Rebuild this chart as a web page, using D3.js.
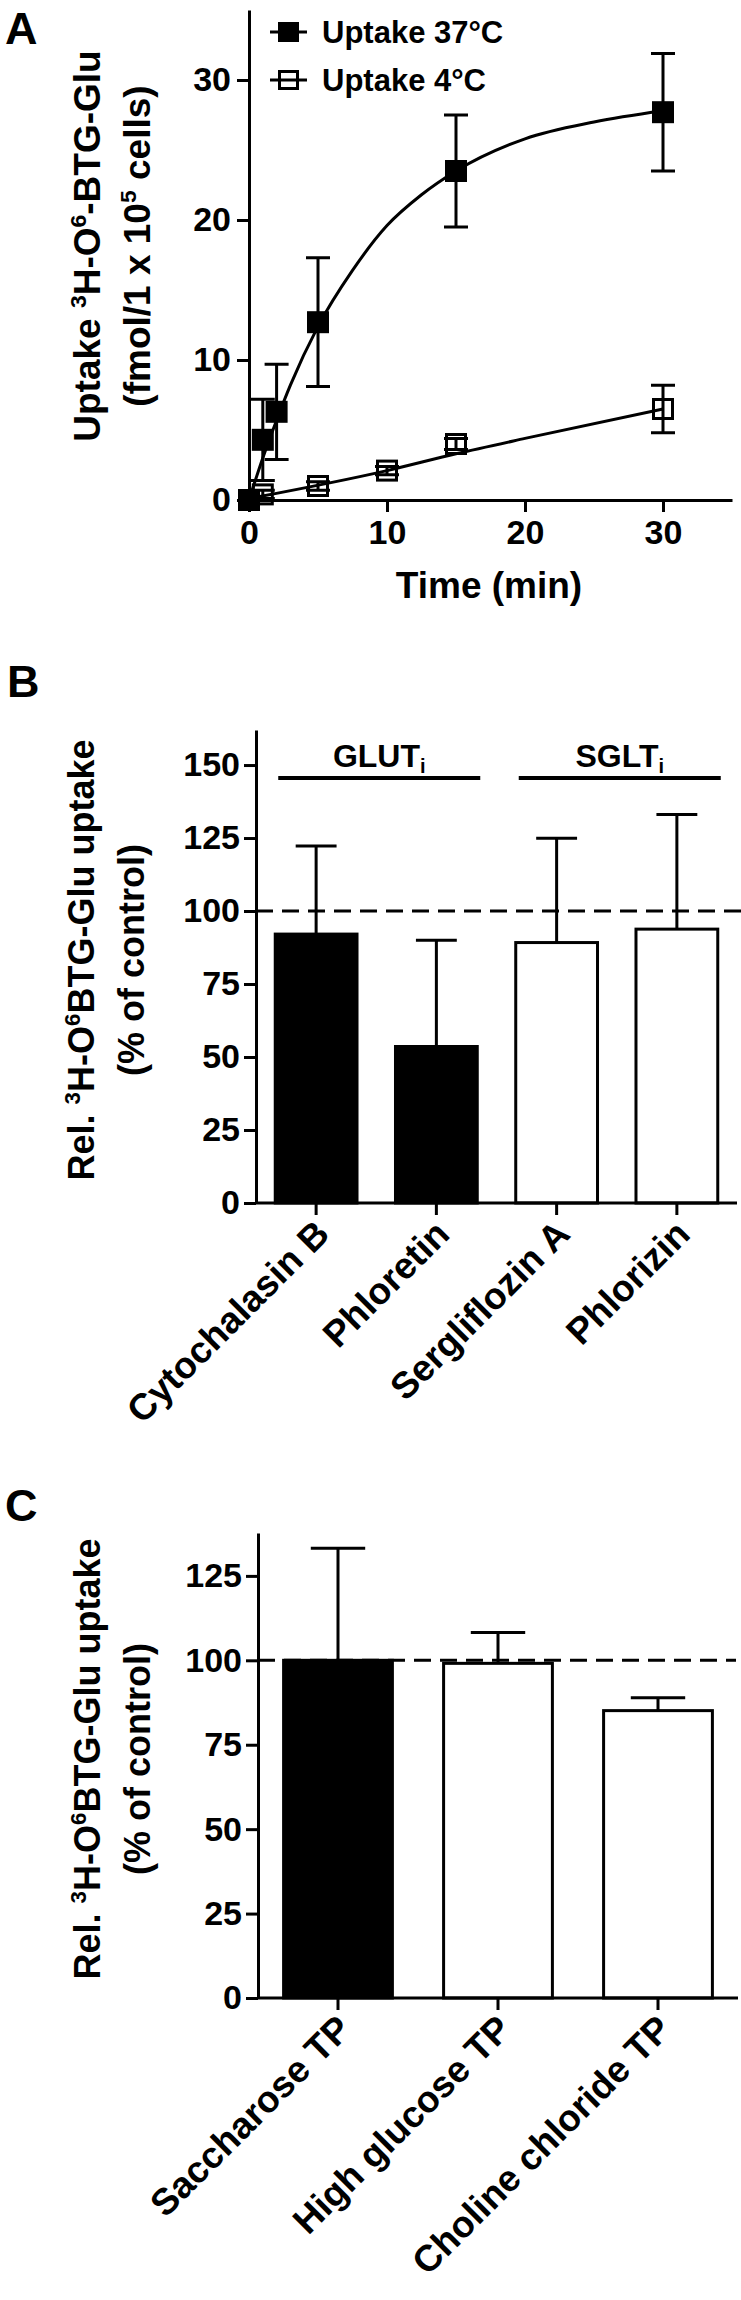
<!DOCTYPE html>
<html lang="en">
<head>
<meta charset="UTF-8">
<title>3H-O6-BTG-Glu uptake</title>
<script src="https://d3js.org/d3.v7.min.js"></script>
<style>
    body { margin: 0; background: #fff; }
    svg { display: block; font-family: "Liberation Sans", Arial, sans-serif; font-weight: bold; }
    .axis path, .axis line { stroke: #000; stroke-width: 3px; }
    .axis text { font-size: 34px; fill: #000; font-family: "Liberation Sans", Arial, sans-serif; font-weight: bold; }
</style>
</head>
<body>
<svg id="fig" width="741" height="2300"></svg>
<script>
    // Panel A - time course
    const time37 = [0, 1, 2, 5, 15, 30];
    const mean37 = [0, 4.3, 6.3, 12.7, 23.5, 27.7];
    const sd37 = [0, 2.9, 3.4, 4.6, 4.0, 4.2];
    const time4 = [0, 1, 5, 10, 15, 30];
    const mean4 = [0, 0.4, 1.0, 2.1, 4.0, 6.5];
    const sd4 = [0, 0.3, 0.3, 0.3, 0.4, 1.7];
    // fitted curves
    const fitTime37 = [0, 1, 2, 3, 5, 7.5, 10, 12.5, 15, 20, 25, 30];
    const fitValue37 = [0, 3.0, 5.7, 8.2, 12.4, 16.4, 19.6, 21.8, 23.5, 25.8, 27.0, 27.8];
    const fitTime4 = [0, 10, 15, 20, 30];
    const fitValue4 = [0.1, 2.1, 3.3, 4.4, 6.5];
    const ticksA = [0, 10, 20, 30];
    const legendA = ["Uptake 37°C", "Uptake 4°C"];

    // Panel B - inhibitors
    const inhibitors = ["Cytochalasin B", "Phloretin", "Sergliflozin A", "Phlorizin"];
    const inhibMean = [92.1, 53.6, 89.2, 93.8];
    const inhibSD = [30.2, 36.4, 35.7, 39.3];
    const inhibFilled = [true, true, false, false];
    const groupNames = ["GLUT", "SGLT"];
    const groupMembers = [["Cytochalasin B", "Phloretin"], ["Sergliflozin A", "Phlorizin"]];
    const ticksB = [0, 25, 50, 75, 100, 125, 150];

    // Panel C - transport buffers
    const buffers = ["Saccharose TP", "High glucose TP", "Choline chloride TP"];
    const bufferMean = [100, 99.1, 85.1];
    const bufferSD = [33.2, 9.1, 3.8];
    const bufferFilled = [true, false, false];
    const ticksC = [0, 25, 50, 75, 100, 125];

    const svg = d3.select("#fig");

    // text with superscript parts: [string, isSup]
    function richText(sel, parts, size) {
        let shifted = false;
        parts.forEach(([s, sup]) => {
            const t = sel.append("tspan").text(s);
            if (sup) { t.attr("font-size", size * 0.62).attr("dy", -size * 0.38); shifted = true; }
            else if (shifted) { t.attr("dy", size * 0.38); shifted = false; }
        });
    }

    function yTitle(x, y, parts, size) {
        const t = svg.append("text")
            .attr("transform", `translate(${x},${y}) rotate(-90)`)
            .attr("text-anchor", "middle")
            .attr("font-size", size);
        richText(t, parts, size);
    }

    function panelLabel(s, x, y) {
        svg.append("text").attr("x", x).attr("y", y).attr("font-size", 45).text(s);
    }

    // ---------- Panel A ----------
    panelLabel("A", 5, 44);
    const xA = d3.scaleLinear().domain([0, 35]).range([249, 732]);
    const yA = d3.scaleLinear().domain([0, 35]).range([500, 10]);

    svg.append("g").attr("class", "axis").attr("transform", "translate(0,500)")
        .call(d3.axisBottom(xA).tickValues(ticksA).tickSize(12).tickSizeOuter(0).tickPadding(8));
    svg.append("g").attr("class", "axis").attr("transform", "translate(249,0)")
        .call(d3.axisLeft(yA).tickValues(ticksA).tickSize(12).tickSizeOuter(0).tickPadding(6));

    svg.append("text").attr("x", 489).attr("y", 598).attr("text-anchor", "middle")
        .attr("font-size", 37).text("Time (min)");
    yTitle(100, 246, [["Uptake ", false], ["3", true], ["H-O", false], ["6", true], ["-BTG-Glu", false]], 37);
    yTitle(150, 246, [["(fmol/1 x 10", false], ["5", true], [" cells)", false]], 37);

    const line = d3.line().x(d => xA(d[0])).y(d => yA(d[1])).curve(d3.curveMonotoneX);
    svg.append("path").attr("d", line(d3.zip(fitTime4, fitValue4)))
        .attr("fill", "none").attr("stroke", "#000").attr("stroke-width", 3);
    svg.append("path").attr("d", line(d3.zip(fitTime37, fitValue37)))
        .attr("fill", "none").attr("stroke", "#000").attr("stroke-width", 3);

    function errorBars(ts, ms, sds) {
        ts.forEach((t, i) => {
            if (!sds[i]) return;
            const cx = xA(t), lo = yA(ms[i] - sds[i]), hi = yA(ms[i] + sds[i]);
            svg.append("path")
                .attr("d", `M${cx},${lo}V${hi}M${cx - 12},${hi}H${cx + 12}M${cx - 12},${lo}H${cx + 12}`)
                .attr("stroke", "#000").attr("stroke-width", 3).attr("fill", "none");
        });
    }
    errorBars(time4, mean4, sd4);
    errorBars(time37, mean37, sd37);

    const ms = 19;
    time4.forEach((t, i) => {
        svg.append("rect").attr("x", xA(t) - ms / 2).attr("y", yA(mean4[i]) - ms / 2)
            .attr("width", ms).attr("height", ms)
            .attr("fill", "none").attr("stroke", "#000").attr("stroke-width", 3);
    });
    time37.forEach((t, i) => {
        svg.append("rect").attr("x", xA(t) - ms / 2 - 1.5).attr("y", yA(mean37[i]) - ms / 2 - 1.5)
            .attr("width", ms + 3).attr("height", ms + 3).attr("fill", "#000");
    });

    // legend
    legendA.forEach((name, i) => {
        const ly = 32 + i * 48;
        svg.append("line").attr("x1", 270).attr("x2", 307).attr("y1", ly).attr("y2", ly)
            .attr("stroke", "#000").attr("stroke-width", 3);
        if (i === 0) {
            svg.append("rect").attr("x", 278).attr("y", ly - 10).attr("width", 21).attr("height", 20).attr("fill", "#000");
        } else {
            svg.append("rect").attr("x", 279.5).attr("y", ly - 8.5).attr("width", 18).attr("height", 17)
                .attr("fill", "none").attr("stroke", "#000").attr("stroke-width", 3);
        }
        svg.append("text").attr("x", 322).attr("y", ly + 11).attr("font-size", 31).text(name);
    });

    // ---------- bar panels ----------
    function barPanel(cfg) {
        const xs = d3.scaleBand().domain(cfg.cats).range(cfg.xRange).paddingInner(0.32).paddingOuter(0.16);
        const ys = d3.scaleLinear().domain([0, cfg.yMax]).range([cfg.y0, cfg.yTop]);
        const bw = xs.bandwidth();

        // bars
        cfg.cats.forEach((c, i) => {
            svg.append("rect").attr("x", xs(c)).attr("y", ys(cfg.mean[i]))
                .attr("width", bw).attr("height", ys(0) - ys(cfg.mean[i]))
                .attr("fill", cfg.filled[i] ? "#000" : "#fff")
                .attr("stroke", "#000").attr("stroke-width", 3);
            const cx = xs(c) + bw / 2, top = ys(cfg.mean[i] + cfg.sd[i]);
            svg.append("path")
                .attr("d", `M${cx},${ys(cfg.mean[i])}V${top}M${cx - bw / 4},${top}H${cx + bw / 4}`)
                .attr("stroke", "#000").attr("stroke-width", 3).attr("fill", "none");
        });

        // reference line at 100 %
        svg.append("line").attr("x1", cfg.xRange[0]).attr("x2", cfg.dashEnd)
            .attr("y1", ys(100)).attr("y2", ys(100))
            .attr("stroke", "#000").attr("stroke-width", 3).attr("stroke-dasharray", "17,9");

        svg.append("g").attr("class", "axis").attr("transform", `translate(${cfg.xRange[0]},0)`)
            .call(d3.axisLeft(ys).tickValues(cfg.ticks).tickSize(12).tickSizeOuter(0).tickPadding(4));
        const xa = svg.append("g").attr("class", "axis").attr("transform", `translate(0,${cfg.y0})`)
            .call(d3.axisBottom(xs).tickSize(12).tickSizeOuter(0));
        xa.select(".domain").attr("d", `M${cfg.xRange[0]},0H${cfg.axisEnd}`);
        xa.selectAll(".tick text").remove();

        cfg.cats.forEach(c => {
            svg.append("text")
                .attr("transform", `translate(${xs(c) + bw / 2 + 6},${cfg.y0 + 24}) rotate(-45)`)
                .attr("text-anchor", "end").attr("dy", "0.35em")
                .attr("font-size", 37).text(c);
        });

        yTitle(cfg.titleX, cfg.titleY, [["Rel. ", false], ["3", true], ["H-O", false], ["6", true], ["BTG-Glu uptake", false]], 36);
        yTitle(cfg.titleX + 50, cfg.titleY, [["(% of control)", false]], 36);
        return { xs, ys };
    }

    panelLabel("B", 7, 697);
    const pB = barPanel({
        cats: inhibitors, mean: inhibMean, sd: inhibSD, filled: inhibFilled,
        xRange: [256, 737], axisEnd: 737, dashEnd: 741, y0: 1203, yTop: 730, yMax: 162,
        ticks: ticksB, titleX: 94, titleY: 960
    });

    // group brackets
    groupNames.forEach((g, i) => {
        const m = groupMembers[i];
        const x1 = pB.xs(m[0]) + 3, x2 = pB.xs(m[m.length - 1]) + pB.xs.bandwidth() + 3;
        svg.append("line").attr("x1", x1).attr("x2", x2).attr("y1", 778).attr("y2", 778)
            .attr("stroke", "#000").attr("stroke-width", 4);
        const t = svg.append("text").attr("x", (x1 + x2) / 2).attr("y", 767)
            .attr("text-anchor", "middle").attr("font-size", 32);
        t.append("tspan").text(g);
        t.append("tspan").attr("font-size", 20).attr("dy", 6).text("i");
    });

    panelLabel("C", 5, 1521);
    barPanel({
        cats: buffers, mean: bufferMean, sd: bufferSD, filled: bufferFilled,
        xRange: [258, 738], axisEnd: 738, dashEnd: 736, y0: 1998, yTop: 1533, yMax: 137.7,
        ticks: ticksC, titleX: 100, titleY: 1759
    });
</script>
</body>
</html>
